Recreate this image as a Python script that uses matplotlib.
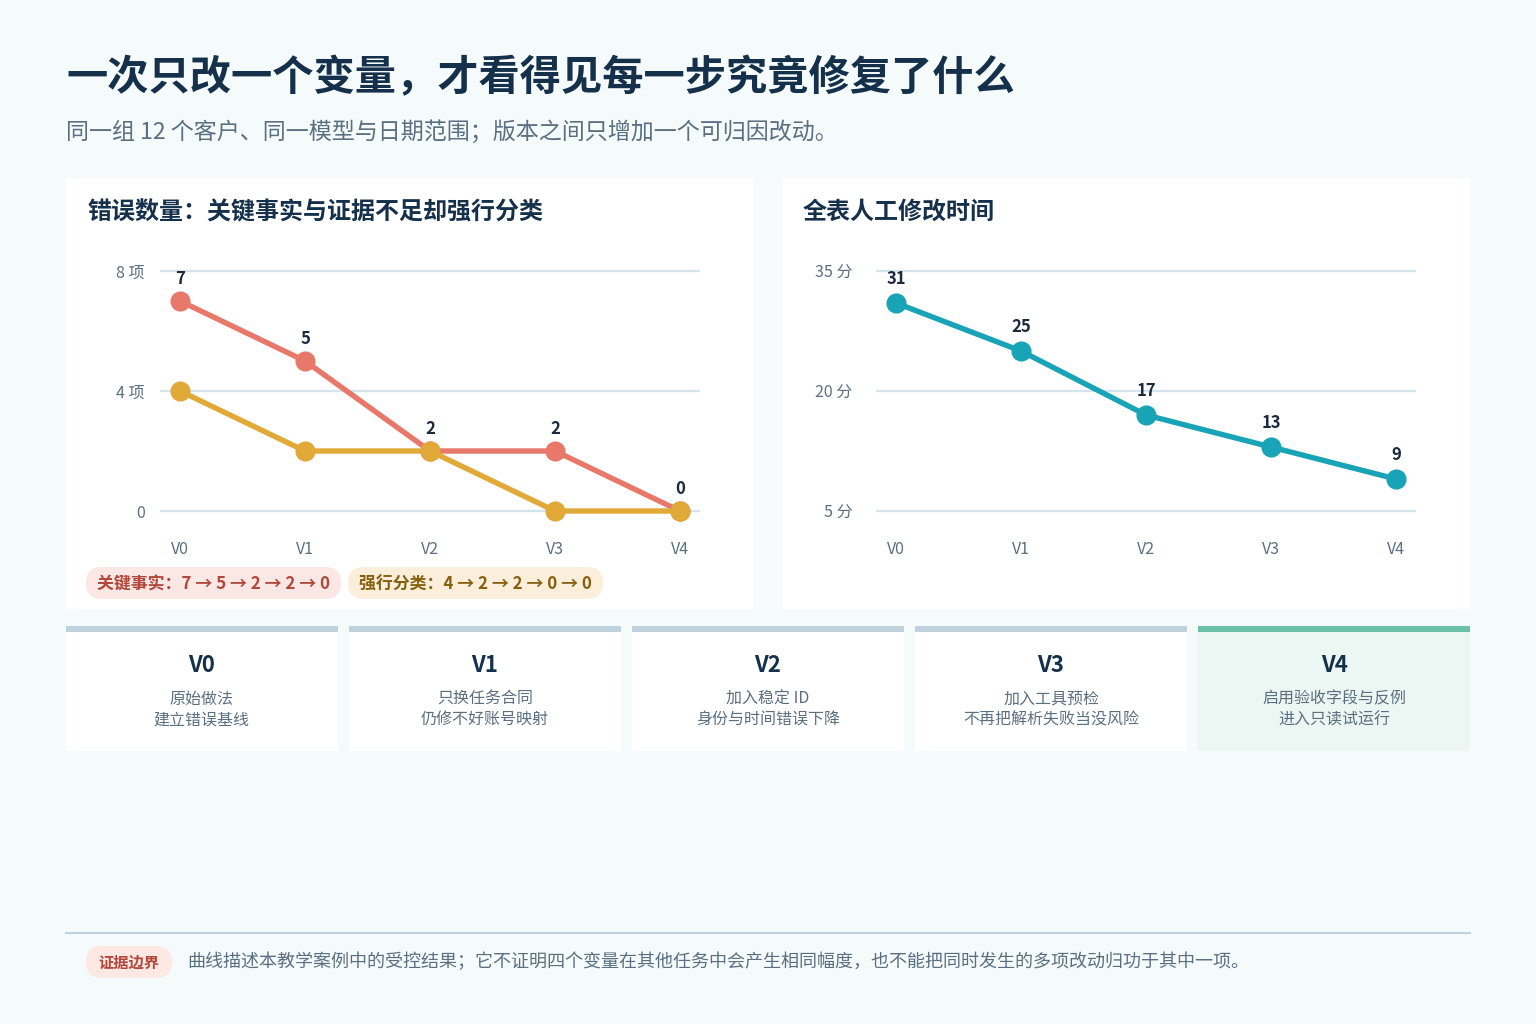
import matplotlib
matplotlib.use("Agg")
import matplotlib.pyplot as plt
from matplotlib.patches import Rectangle, FancyBboxPatch

plt.rcParams['font.family'] = ['Noto Sans CJK SC', 'DejaVu Sans']

W, H = 1536, 1024

# data
versions = ["V0", "V1", "V2", "V3", "V4"]
key_facts = [7, 5, 2, 2, 0]
forced_class = [4, 2, 2, 0, 0]
edit_minutes = [31, 25, 17, 13, 9]
count_ticks = [0, 4, 8]
count_tick_labels = ["0", "4 项", "8 项"]
minute_ticks = [5, 20, 35]
minute_tick_labels = ["5 分", "20 分", "35 分"]
step_notes = [
    ("原始做法", "建立错误基线"),
    ("只换任务合同", "仍修不好账号映射"),
    ("加入稳定 ID", "身份与时间错误下降"),
    ("加入工具预检", "不再把解析失败当没风险"),
    ("启用验收字段与反例", "进入只读试运行"),
]

BG = "#f5fafb"
NAVY = "#15304a"
MUTED = "#5b6f82"
GRID = "#d5e4ec"
RED = "#e8796a"
GOLD = "#e1a937"
TEAL = "#18a3b6"


def chart_axes(fig, x0, x1, y0, y1):
    return fig.add_axes([x0 / W, 1 - y1 / H, (x1 - x0) / W, (y1 - y0) / H])


def style_chart(ax, ticks, labels, ylim, ypad):
    ax.set_facecolor("none")
    ax.set_xlim(-0.16, 4.16)
    ax.set_ylim(*ylim)
    ax.set_yticks(ticks, labels)
    ax.set_xticks(range(len(versions)), versions)
    for s in ax.spines.values():
        s.set_visible(False)
    ax.grid(axis="y", color=GRID, lw=1.6)
    ax.set_axisbelow(True)
    ax.tick_params(axis="y", length=0, pad=ypad, labelsize=11.5, labelcolor=MUTED)
    ax.tick_params(axis="x", length=0, pad=10, labelsize=11.5, labelcolor=MUTED)


def pill(ax, x, y, w, h, fc, text, tc, size=12.2, dy=2):
    ax.add_patch(FancyBboxPatch((x, y), w, h, boxstyle="round,pad=0,rounding_size=%d" % (h // 2),
                                fc=fc, ec="none"))
    ax.text(x + w / 2, y + h / 2 + dy, text, ha="center", va="center", color=tc,
            fontsize=size, fontweight="bold")


fig = plt.figure(figsize=(W / 100, H / 100), dpi=100, facecolor=BG)

bg = fig.add_axes([0, 0, 1, 1])
bg.set_xlim(0, W)
bg.set_ylim(H, 0)
bg.axis("off")

# header
bg.text(66, 78, "一次只改一个变量，才看得见每一步究竟修复了什么", fontsize=29.7,
        fontweight="bold", color=NAVY, va="center")
bg.text(66, 132, "同一组 12 个客户、同一模型与日期范围；版本之间只增加一个可归因改动。",
        fontsize=16.6, color=MUTED, va="center")

# chart cards
bg.add_patch(Rectangle((66, 178), 688, 431, fc="white", ec="none"))
bg.add_patch(Rectangle((782, 178), 688, 431, fc="white", ec="none"))
bg.text(87, 212, "错误数量：关键事实与证据不足却强行分类", fontsize=17.3,
        fontweight="bold", color=NAVY, va="center")
bg.text(803, 212, "全表人工修改时间", fontsize=17.3, fontweight="bold", color=NAVY, va="center")

pill(bg, 86, 567, 255, 32, "#fbe8e4", "关键事实：7 → 5 → 2 → 2 → 0", "#b0473a")
pill(bg, 348, 567, 255, 32, "#fbefdb", "强行分类：4 → 2 → 2 → 0 → 0", "#86600f")

# left chart
ax1 = chart_axes(fig, 160, 700, 255, 527)
style_chart(ax1, count_ticks, count_tick_labels, (-0.533, 8.533), 11)
x = list(range(len(versions)))
ax1.plot(x, key_facts, color=RED, lw=3.9, marker="o", ms=13.5, zorder=3, clip_on=False)
ax1.plot(x, forced_class, color=GOLD, lw=3.9, marker="o", ms=13.5, zorder=4, clip_on=False)
for i, v in enumerate(key_facts):
    ax1.annotate(str(v), (i, v), xytext=(0, 16), textcoords="offset points", ha="center",
                 va="center", fontsize=12, fontweight="bold", color="#1b2a3d")

# right chart
ax2 = chart_axes(fig, 876, 1416, 255, 527)
style_chart(ax2, minute_ticks, minute_tick_labels, (3, 37), 17)
ax2.plot(x, edit_minutes, color=TEAL, lw=3.9, marker="o", ms=13.5, zorder=3, clip_on=False)
for i, v in enumerate(edit_minutes):
    ax2.annotate(str(v), (i, v), xytext=(0, 17), textcoords="offset points", ha="center",
                 va="center", fontsize=12, fontweight="bold", color="#1b2a3d")

# step cards
card_w = 271.5
for i, (name, notes) in enumerate(zip(versions, step_notes)):
    x0 = 66 + i * 283.1
    last = i == len(versions) - 1
    bg.add_patch(Rectangle((x0, 632), card_w, 119, fc="#ecf6f2" if last else "white", ec="none"))
    bg.add_patch(Rectangle((x0, 626), card_w, 6, fc="#6cbfa8" if last else "#bfd1dc", ec="none"))
    cx = x0 + card_w / 2
    bg.text(cx, 665, name, ha="center", va="center", fontsize=16, fontweight="bold", color=NAVY)
    bg.text(cx, 699, notes[0], ha="center", va="center", fontsize=11.5, color=MUTED)
    bg.text(cx, 720, notes[1], ha="center", va="center", fontsize=11.5, color=MUTED)

# footer
bg.plot([66, 1470], [933, 933], color="#bcd2de", lw=1.5)
pill(bg, 86, 946, 86, 32, "#fde8e4", "证据边界", "#b0473a", size=11, dy=1)
bg.text(187, 962, "曲线描述本教学案例中的受控结果；它不证明四个变量在其他任务中会产生相同幅度，"
        "也不能把同时发生的多项改动归功于其中一项。", fontsize=13, color=MUTED, va="center")

fig.savefig("out.png", dpi=100, facecolor=BG)
